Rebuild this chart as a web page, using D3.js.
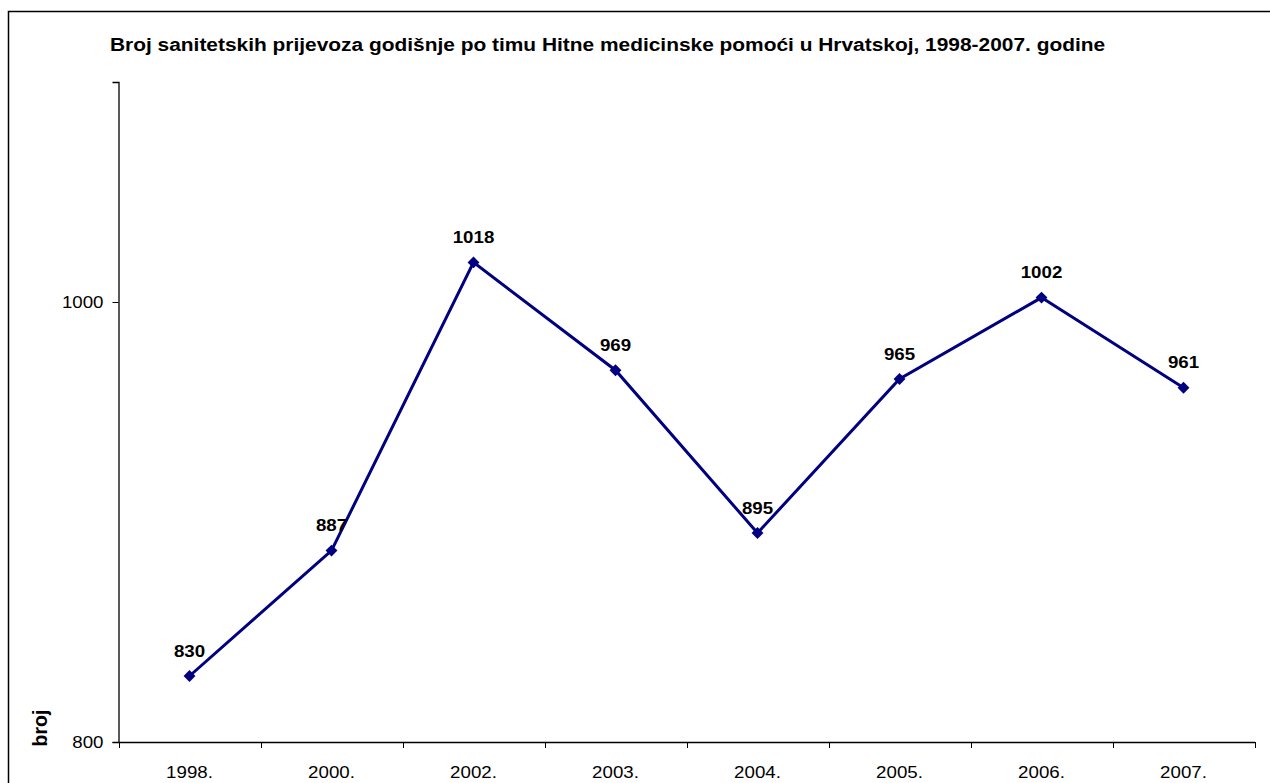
<!DOCTYPE html>
<html><head><meta charset="utf-8">
<script src="https://cdn.jsdelivr.net/npm/d3@7"></script>
<style>
body{margin:0;background:#fff;}
svg{display:block;font-family:Arial,"Liberation Sans",sans-serif;}
</style></head>
<body>
<svg id="c" width="1270" height="783"></svg>
<script>
const title = "Broj sanitetskih prijevoza godišnje po timu Hitne medicinske pomoći u Hrvatskoj, 1998-2007. godine";
const categories = ["1998.","2000.","2002.","2003.","2004.","2005.","2006.","2007."];
const values = [830, 887, 1018, 969, 895, 965, 1002, 961];
const yTicks = [800, 1000];
const yDomain = [800, 1100];
const yLabel = "broj";

(function(){
const FS = 17, SX = 1.1;
const FF = "Arial,'Liberation Sans',sans-serif";
const svg = d3.select("#c");
svg.append("rect").attr("x",8.5).attr("y",11.5).attr("width",1300).attr("height",800)
  .attr("fill","none").attr("stroke","#000").attr("stroke-width",1.5);

const pL=118.5, pR=1254.5, pT=82, pB=742;
const x = d3.scaleBand().domain(categories).range([pL,pR]).padding(0);
const y = d3.scaleLinear().domain(yDomain).range([pB,pT]);

svg.append("text").attr("transform","translate(110,51) scale(1.1,1)").attr("text-anchor","start")
  .attr("font-size",19).attr("font-weight","bold").text(title);

// y axis
const ya = svg.append("g").attr("transform",`translate(${pL},0)`)
  .call(d3.axisLeft(y).tickValues(yTicks).tickSize(6).tickFormat(d3.format("d")));
ya.select(".domain").attr("stroke","#000").attr("stroke-width",1.3);
ya.selectAll("text").attr("font-size",FS).attr("font-family",FF).attr("fill","#000")
  .attr("x",-15/SX).attr("transform",`scale(${SX},1)`);
ya.selectAll("line").attr("stroke","#000");

// x axis
const xa = svg.append("g").attr("transform",`translate(0,${pB})`)
  .call(d3.axisBottom(x).tickSize(0));
xa.select(".domain").attr("stroke","#000").attr("stroke-width",1.3);
xa.selectAll("text").attr("font-size",FS).attr("font-family",FF).attr("fill","#000")
  .attr("y",36).attr("dy",0).attr("transform",`scale(${SX},1)`);
const bounds = categories.map(c=>x(c)).concat([pR]);
xa.selectAll(".bt").data(bounds).enter().append("line").attr("class","bt")
  .attr("x1",d=>Math.round(d)+0.5).attr("x2",d=>Math.round(d)+0.5).attr("y1",0).attr("y2",6).attr("stroke","#000");

svg.append("text").attr("transform","translate(47,728) rotate(-90)").attr("text-anchor","middle")
  .attr("font-size",19.5).attr("font-weight","bold").text(yLabel);

const cx = d => x(d) + x.bandwidth()/2;
const line = d3.line().x((d,i)=>cx(categories[i])).y(d=>y(d));
svg.append("path").datum(values).attr("d",line).attr("fill","none")
  .attr("stroke","#000080").attr("stroke-width",3);

svg.selectAll(".m").data(values).enter().append("path").attr("class","m")
  .attr("d",d3.symbol().type(d3.symbolDiamond2).size(90))
  .attr("transform",(d,i)=>`translate(${cx(categories[i])},${y(d)})`)
  .attr("fill","#000080");

svg.selectAll(".lbl").data(values).enter().append("text").attr("class","lbl")
  .attr("transform",(d,i)=>`translate(${cx(categories[i])},${y(d)-19.5}) scale(${SX},1)`)
  .attr("text-anchor","middle").attr("font-size",FS).attr("font-weight","bold").text(d=>d);
})();
</script>
</body></html>
